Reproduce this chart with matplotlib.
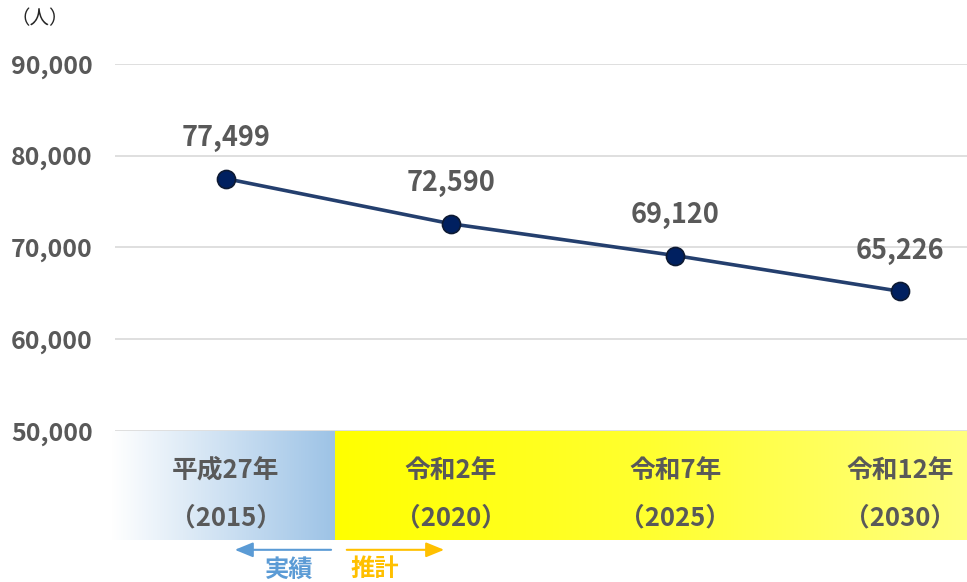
import numpy as np
import matplotlib
matplotlib.use("Agg")
import matplotlib.pyplot as plt
from matplotlib.colors import LinearSegmentedColormap

plt.rcParams['font.family'] = ['Noto Sans CJK JP', 'DejaVu Sans']

# data
anos_wareki = ['平成27年', '令和2年', '令和7年', '令和12年']
anos_seireki = ['（2015）', '（2020）', '（2025）', '（2030）']
poblacion = [77499, 72590, 69120, 65226]
y_ticks = [50000, 60000, 70000, 80000, 90000]

W, H = 967, 582
fig = plt.figure(figsize=(W / 100, H / 100), dpi=100)

def px_box(x0, y0, x1, y1):
    # pixel box (top-left origin) -> figure fraction
    return [x0 / W, 1 - y1 / H, (x1 - x0) / W, (y1 - y0) / H]

ax = fig.add_axes(px_box(115, 64, 967, 431))
xs = np.arange(len(poblacion))
xlim = (-0.495, 3.298)

ax.set_xlim(xlim)
ax.set_ylim(50000, 90000)
ax.set_yticks(y_ticks)
ax.set_yticklabels([f'{v:,}' for v in y_ticks], fontsize=18, fontweight='bold', color='#595959')
ax.tick_params(axis='y', length=0, pad=16)
ax.set_xticks([])
for s in ax.spines.values():
    s.set_visible(False)
ax.grid(axis='y', color='#D9D9D9', linewidth=1.2)
ax.set_axisbelow(True)

ax.plot(xs, poblacion, color='#243F6E', linewidth=2.6, marker='o', markersize=13,
        markerfacecolor='#002060', markeredgecolor='#0D1A33', markeredgewidth=1.2, zorder=3)
for x, v in zip(xs, poblacion):
    ax.annotate(f'{v:,}', (x, v), xytext=(0, 29), textcoords='offset points',
                ha='center', va='center', fontsize=19.5, fontweight='bold', color='#595959')

# band with gradients
band = fig.add_axes(px_box(112, 431, 967, 540))
x0 = (112 - 226) / 224.7
split = (335 - 226) / 224.7
band.axis('off')
blue = LinearSegmentedColormap.from_list('b', ['#FFFFFF', '#9DC3E6'], N=1024)
yellow = LinearSegmentedColormap.from_list('y', ['#FFFF00', '#FFFF30', '#FFFF80'], N=1024)
grad = np.linspace(0, 1, 1024).reshape(1, -1)
band.imshow(grad, cmap=blue, extent=[x0, split, 0, 1], aspect='auto', interpolation='bilinear')
band.imshow(grad, cmap=yellow, extent=[split, xlim[1], 0, 1], aspect='auto', interpolation='bilinear')
band.set_xlim(x0, xlim[1])
band.set_ylim(0, 1)

for x, a, b in zip(xs, anos_wareki, anos_seireki):
    band.text(x, 0.64, a, ha='center', va='center', fontsize=18.5, fontweight='bold', color='#595959')
    band.text(x, 0.20, b, ha='center', va='center', fontsize=18.5, fontweight='bold', color='#595959')

# 実績 / 推計 arrows
band.annotate('', xy=((232 - 226) / 224.7, -0.09), xytext=(split - 0.005, -0.09),
              arrowprops=dict(arrowstyle='-|>,head_width=0.45,head_length=1.1', color='#5B9BD5', lw=1.5),
              annotation_clip=False)
band.annotate('', xy=((447 - 226) / 224.7, -0.09), xytext=(split + 0.04, -0.09),
              arrowprops=dict(arrowstyle='-|>,head_width=0.45,head_length=1.1', color='#FFC000', lw=1.5),
              annotation_clip=False)
band.text((289 - 226) / 224.7, -0.27, '実績', ha='center', va='center', fontsize=17.5,
          fontweight='bold', color='#5B9BD5', clip_on=False)
band.text((375 - 226) / 224.7, -0.27, '推計', ha='center', va='center', fontsize=17.5,
          fontweight='bold', color='#FFC000', clip_on=False)

fig.text(40 / W, 1 - 19 / H, '（人）', ha='center', va='center', fontsize=14, color='#262626')

fig.savefig('out.png', dpi=100)
